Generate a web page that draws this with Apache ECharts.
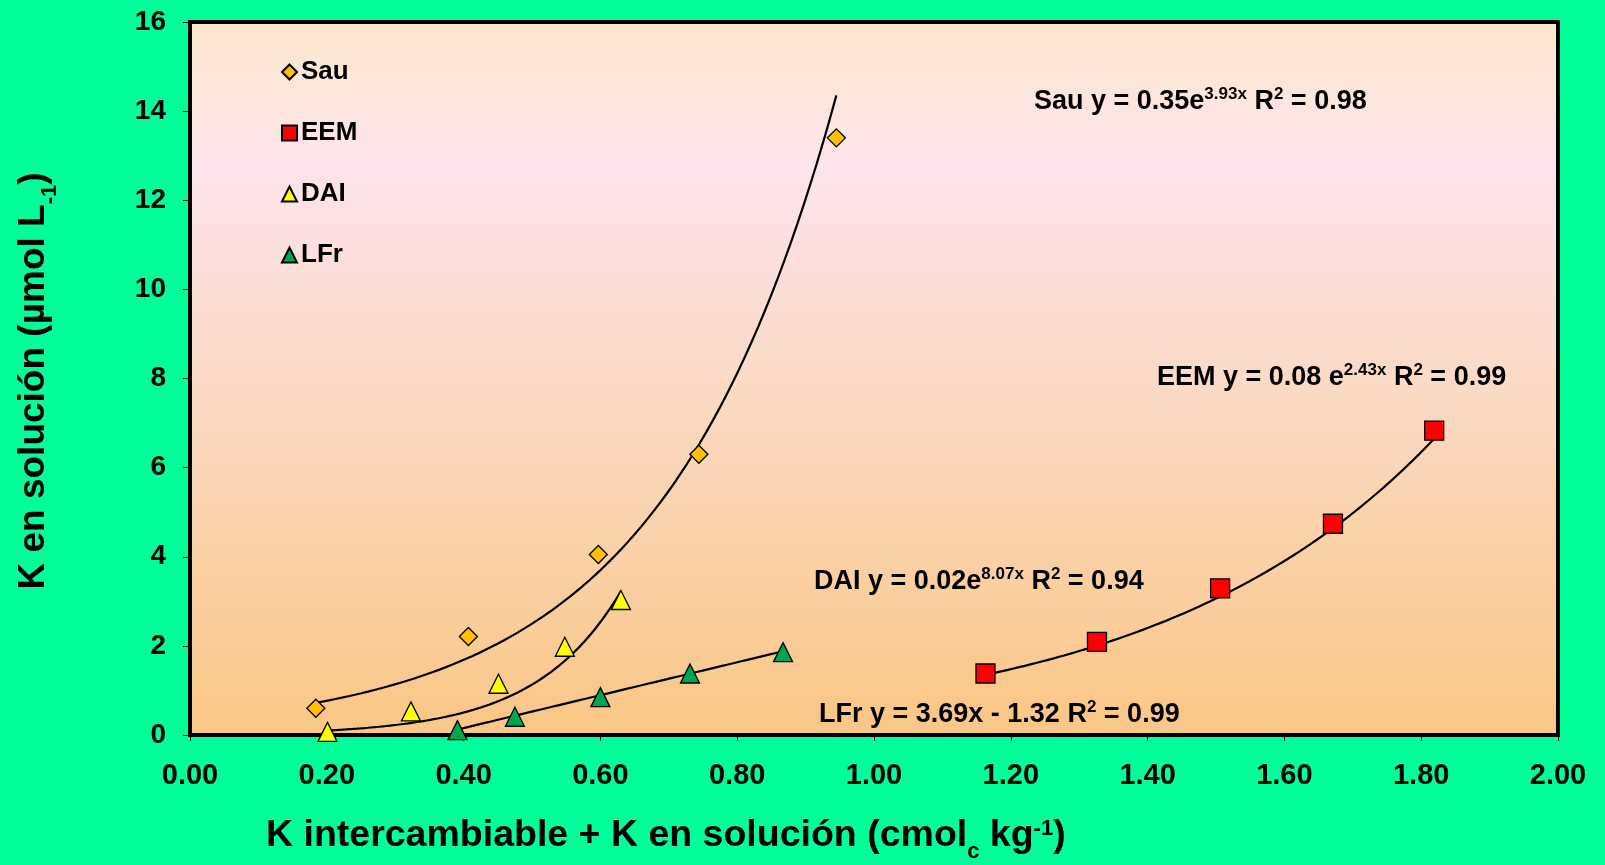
<!DOCTYPE html>
<html>
<head>
<meta charset="utf-8">
<script src="https://cdn.jsdelivr.net/npm/echarts@6/dist/echarts.min.js"></script>
<style>
  html, body { margin: 0; padding: 0; background: #00FF99; }
  #chart { width: 1605px; height: 865px; }
</style>
</head>
<body>
<div id="chart"></div>
<script>
// Measured points: K intercambiable + K en solución (x) vs K en solución (y)
const sauX = [0.184, 0.407, 0.597, 0.744, 0.945];
const sauY = [0.60, 2.21, 4.05, 6.30, 13.40];
const eemX = [1.163, 1.326, 1.506, 1.671, 1.819];
const eemY = [1.38, 2.09, 3.29, 4.74, 6.83];
const daiX = [0.201, 0.323, 0.451, 0.548, 0.630];
const daiY = [0.07, 0.53, 1.15, 1.98, 3.03];
const lfrX = [0.391, 0.475, 0.600, 0.731, 0.867];
const lfrY = [0.11, 0.41, 0.85, 1.38, 1.86];

const seriesNames = ['Sau', 'EEM', 'DAI', 'LFr'];

// Trend equations as reported: exponential a·e^(b·x) or linear a·x + b
const sauFit = { type: 'exp', a: 0.35, b: 3.93, r2: '0.98' };
const eemFit = { type: 'exp', a: 0.08, b: 2.43, r2: '0.99' };
const daiFit = { type: 'exp', a: 0.02, b: 8.07, r2: '0.94' };
const lfrFit = { type: 'lin', a: 3.69, b: -1.32, r2: '0.99' };

const xTicks = { min: 0, max: 2, interval: 0.2 };
const yTicks = { min: 0, max: 16, interval: 2 };

const FONT = '"Liberation Sans", Arial, sans-serif';
const NARROW = '"Liberation Sans Narrow", "Arial Narrow", "Liberation Sans", sans-serif';

function pairs(xs, ys) { return xs.map((x, i) => [x, ys[i]]); }

// Sample a trend equation across the range of its own points
function trend(fit, xs) {
  const lo = Math.min(...xs), hi = Math.max(...xs);
  const out = [];
  const n = 80;
  for (let i = 0; i <= n; i++) {
    const x = lo + (hi - lo) * i / n;
    const y = fit.type === 'exp' ? fit.a * Math.exp(fit.b * x) : fit.a * x + fit.b;
    out.push([x, y]);
  }
  return out;
}

const markerBorder = { borderColor: '#000', borderWidth: 1.3 };

function scatter(name, data, symbol, size, color) {
  return {
    name, type: 'scatter', data, symbol, symbolSize: size, z: 5,
    itemStyle: Object.assign({ color, opacity: 1 }, markerBorder)
  };
}

function trendLine(data) {
  return {
    type: 'line', data, showSymbol: false, symbol: 'none', z: 3, silent: true,
    lineStyle: { color: '#000', width: 2.2 }
  };
}

const eqRich = {
  b: { fontFamily: FONT, fontWeight: 'bold', fontSize: 27, color: '#000', lineHeight: 34, verticalAlign: 'bottom' },
  s: { fontFamily: FONT, fontWeight: 'bold', fontSize: 17, color: '#000', lineHeight: 34, verticalAlign: 'bottom', padding: [0, 0, 12, 0] }
};

function eqText(label, fit) {
  if (fit.type === 'exp') {
    return `{b|${label} y = ${fit.a.toFixed(2)}${label === 'EEM' ? ' ' : ''}e}{s|${fit.b.toFixed(2)}x}{b| R}{s|2}{b| = ${fit.r2}}`;
  }
  const sign = fit.b < 0 ? '-' : '+';
  return `{b|${label} y = ${fit.a.toFixed(2)}x ${sign} ${Math.abs(fit.b).toFixed(2)} R}{s|2}{b| = ${fit.r2}}`;
}

const chart = echarts.init(document.getElementById('chart'), null, { renderer: 'canvas' });

const option = {
  backgroundColor: '#00FF99',
  animation: false,
  grid: {
    left: 190, right: 47, top: 22, bottom: 130,
    show: true,
    borderColor: '#000', borderWidth: 4,
    backgroundColor: new echarts.graphic.LinearGradient(0, 0, 0, 1, [
      { offset: 0, color: '#FBE8CB' },
      { offset: 0.2, color: '#FDE4EC' },
      { offset: 0.5, color: '#FBDAC6' },
      { offset: 1, color: '#F9C785' }
    ])
  },
  legend: {
    data: seriesNames.map(n => ({ name: n })),
    orient: 'vertical',
    left: 276, top: 54,
    itemWidth: 15, itemHeight: 15, itemGap: 35,
    selectedMode: false,
    textStyle: { fontFamily: FONT, fontWeight: 'bold', fontSize: 26, color: '#000', padding: [0, 0, 0, -1] }
  },
  xAxis: {
    type: 'value', min: xTicks.min, max: xTicks.max, interval: xTicks.interval,
    splitLine: { show: false },
    axisLine: { show: true, lineStyle: { color: '#000', width: 4 } },
    axisTick: { show: true, length: 6, lineStyle: { color: '#000', width: 1 } },
    axisLabel: {
      margin: 26, color: '#000', fontFamily: NARROW, fontWeight: 'bold', fontSize: 29,
      formatter: v => v.toFixed(2)
    }
  },
  yAxis: {
    type: 'value', min: yTicks.min, max: yTicks.max, interval: yTicks.interval,
    splitLine: { show: false },
    axisLine: { show: true, lineStyle: { color: '#000', width: 4 } },
    axisTick: { show: true, length: 7, lineStyle: { color: '#000', width: 1 } },
    axisLabel: { margin: 24, color: '#000', fontFamily: FONT, fontWeight: 'bold', fontSize: 28 }
  },
  series: [
    trendLine(trend(sauFit, sauX)),
    trendLine(trend(eemFit, eemX)),
    trendLine(trend(daiFit, daiX)),
    trendLine(trend(lfrFit, lfrX)),
    scatter('Sau', pairs(sauX, sauY), 'diamond', 18, '#FFC000'),
    scatter('EEM', pairs(eemX, eemY), 'rect', 19, '#FF0000'),
    scatter('DAI', pairs(daiX, daiY), 'triangle', 19, '#FFFF00'),
    scatter('LFr', pairs(lfrX, lfrY), 'triangle', 19, '#00A550')
  ],
  graphic: [
    { type: 'text', left: 1034, top: 86, z: 10, style: { text: eqText('Sau', sauFit), rich: eqRich } },
    { type: 'text', left: 1157, top: 362, z: 10, style: { text: eqText('EEM', eemFit), rich: eqRich } },
    { type: 'text', left: 814, top: 566, z: 10, style: { text: eqText('DAI', daiFit), rich: eqRich } },
    { type: 'text', left: 819, top: 699, z: 10, style: { text: eqText('LFr', lfrFit), rich: eqRich } },
    {
      type: 'text', x: 30, y: 381, rotation: Math.PI / 2, z: 10,
      style: {
        text: '{t|K en solución (µmol L}{sub|-1}{t|)}',
        align: 'center', verticalAlign: 'middle',
        rich: {
          t: { fontFamily: FONT, fontWeight: 'bold', fontSize: 37, color: '#000', lineHeight: 44, verticalAlign: 'bottom' },
          sub: { fontFamily: FONT, fontWeight: 'bold', fontSize: 22, color: '#000', lineHeight: 44, verticalAlign: 'bottom', padding: [0, 0, -9, 0] }
        }
      }
    },
    {
      type: 'text', x: 266, y: 832, z: 10,
      style: {
        text: '{t|K intercambiable + K en solución (cmol}{sub|c}{t| kg}{sup|-1}{t|)}',
        align: 'left', verticalAlign: 'middle',
        rich: {
          t: { fontFamily: NARROW, fontWeight: 'bold', fontSize: 37.5, color: '#000', lineHeight: 46, verticalAlign: 'bottom' },
          sub: { fontFamily: NARROW, fontWeight: 'bold', fontSize: 22, color: '#000', lineHeight: 46, verticalAlign: 'bottom', padding: [0, 0, -8, 0] },
          sup: { fontFamily: NARROW, fontWeight: 'bold', fontSize: 22, color: '#000', lineHeight: 46, verticalAlign: 'bottom', padding: [0, 0, 15, 0] }
        }
      }
    }
  ]
};

chart.setOption(option);
</script>
</body>
</html>
